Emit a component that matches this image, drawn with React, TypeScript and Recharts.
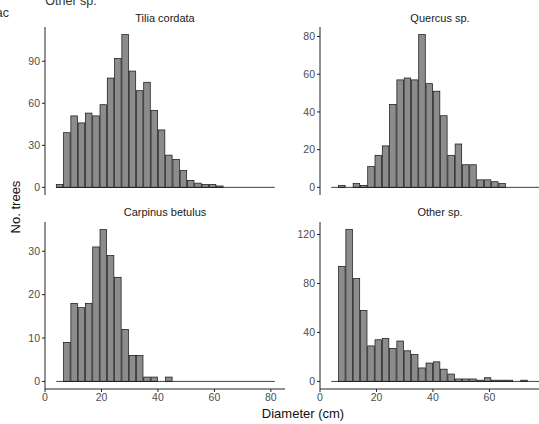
import React from 'react';
import { BarChart, Bar, XAxis, YAxis, ReferenceLine } from 'recharts';

// histogram bins shared by all four panels (cm)
const BIN_START = 4.0;
const BIN_WIDTH = 2.58;
const N_BINS = 30;
const binMids = Array.from({ length: N_BINS }, (_, i) => +(BIN_START + BIN_WIDTH * (i + 0.5)).toFixed(2));

// counts per bin
const tilia = [2, 39, 51, 46, 53, 51, 59, 78, 92, 109, 83, 69, 75, 55, 41, 23, 20, 12, 5, 3, 2, 2, 1, 0, 0, 0, 0, 0, 0, 0];
const quercus = [0, 1, 0, 2, 1, 11, 17, 22, 44, 57, 58, 57, 81, 55, 51, 38, 17, 23, 12, 12, 4, 4, 3, 2, 0, 0, 0, 0, 0, 0];
const carpinus = [0, 9, 18, 17, 18, 31, 35, 29, 24, 12, 6, 6, 1, 1, 0, 1, 0, 0, 0, 0, 0, 0, 0, 0, 0, 0, 0, 0, 0, 0];
const other = [0, 94, 124, 84, 58, 29, 34, 35, 27, 33, 25, 22, 11, 15, 16, 10, 6, 2, 2, 2, 1, 3, 1, 1, 1, 0, 1, 0, 0, 0];

const xTicksLeft = [0, 20, 40, 60, 80];
const xTicksRight = [0, 20, 40, 60]; // 80 falls outside the cropped figure
const X_MAX = 85;

const FONT = '"Liberation Sans", Arial, Helvetica, sans-serif';
const PLOT_W = 240;
const Y_AXIS_W = 45;

const toRows = (counts: number[]) => binMids.map((mid, i) => ({ mid, n: counts[i] }));

function HistBar(props: any) {
  const { x, y, width, height } = props;
  if (!height) return <g />;
  return <rect x={x} y={y} width={width} height={height} fill="#8c8c8c" stroke="#111" strokeWidth={0.7} />;
}

interface PanelProps {
  counts: number[];
  yTicks: number[];
  xTicks: number[];
  left: number;
  bottom: boolean;
}

const Panel: React.FC<PanelProps> = ({ counts, yTicks, xTicks, left, bottom }) => {
  const max = Math.max(...counts);
  const pad = max * 0.05;
  const top = bottom ? 200 : 0;
  const height = bottom ? 224 : 200;
  const margin = bottom
    ? { top: 22, right: 5, bottom: 15, left: 0 }
    : { top: 27, right: 5, bottom: 5, left: 0 };
  const tickStyle = { fontSize: 10.5, fill: '#4d4d4d', fontFamily: FONT };

  return (
    <div style={{ position: 'absolute', left, top }}>
      <BarChart width={Y_AXIS_W + PLOT_W + 5} height={height} data={toRows(counts)} margin={margin}>
        <XAxis
          dataKey="mid"
          type="number"
          domain={[0, X_MAX]}
          ticks={xTicks}
          allowDataOverflow
          hide={!bottom}
          height={20}
          tickSize={3}
          tickMargin={2}
          tick={tickStyle}
          stroke="#222"
        />
        <YAxis
          type="number"
          domain={[-pad, max + pad]}
          ticks={yTicks}
          interval={0}
          width={Y_AXIS_W}
          tickSize={3}
          tickMargin={2}
          tick={tickStyle}
          stroke="#222"
        />
        {/* empty bins are drawn as a flat outline along zero */}
        <ReferenceLine
          segment={[
            { x: BIN_START, y: 0 },
            { x: BIN_START + BIN_WIDTH * N_BINS, y: 0 },
          ]}
          stroke="#111"
          strokeWidth={0.8}
          ifOverflow="visible"
        />
        <Bar dataKey="n" barSize={(BIN_WIDTH * PLOT_W) / X_MAX} shape={HistBar} isAnimationActive={false} />
      </BarChart>
    </div>
  );
};

export default function App() {
  return (
    <div
      style={{
        position: 'absolute',
        left: 0,
        top: 0,
        width: 539,
        height: 424,
        overflow: 'hidden',
        background: '#fff',
        fontFamily: FONT,
      }}
    >
      <Panel counts={tilia} yTicks={[0, 30, 60, 90]} xTicks={xTicksLeft} left={0} bottom={false} />
      <Panel counts={quercus} yTicks={[0, 20, 40, 60, 80]} xTicks={xTicksRight} left={275} bottom={false} />
      <Panel counts={carpinus} yTicks={[0, 10, 20, 30]} xTicks={xTicksLeft} left={0} bottom />
      <Panel counts={other} yTicks={[0, 40, 80, 120]} xTicks={xTicksRight} left={275} bottom />

      <svg width={539} height={424} style={{ position: 'absolute', left: 0, top: 0, pointerEvents: 'none' }}>
        <g fontFamily={FONT}>
          {/* remnants of the neighbouring figure, cut by the crop */}
          <text x={71} y={5} textAnchor="middle" fontSize={12.5} fill="#333">Other sp.</text>
          <text x={9} y={17} textAnchor="end" fontSize={12.5} fill="#333">ac</text>

          <text x={165} y={22} textAnchor="middle" fontSize={11} fill="#1a1a1a">Tilia cordata</text>
          <text x={440} y={22} textAnchor="middle" fontSize={11} fill="#1a1a1a">Quercus sp.</text>
          <text x={165} y={216} textAnchor="middle" fontSize={11} fill="#1a1a1a">Carpinus betulus</text>
          <text x={440} y={216} textAnchor="middle" fontSize={11} fill="#1a1a1a">Other sp.</text>

          <text x={303} y={418} textAnchor="middle" fontSize={13} fill="#111">Diameter (cm)</text>
          <text
            x={0}
            y={0}
            transform="translate(20, 207) rotate(-90)"
            textAnchor="middle"
            fontSize={13}
            fill="#111"
          >
            No. trees
          </text>
        </g>
      </svg>
    </div>
  );
}
